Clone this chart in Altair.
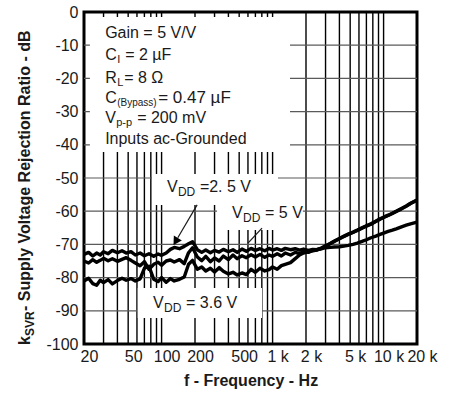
import altair as alt
import pandas as pd

# ---- measured supply-voltage rejection, dB, versus frequency, Hz ----
freq_hz = [20, 22, 24, 26, 28, 30, 33, 36, 40, 44, 48, 53, 58, 64, 70, 77, 85, 93,
           100, 110, 120, 130, 145, 160, 175, 190, 210, 230, 250, 275, 300, 330, 360,
           400, 440, 480, 530, 580, 640, 700, 770, 850, 930, 1000, 1100, 1200, 1300,
           1450, 1600, 1750, 1900, 2100, 2300, 2500, 2750, 3000, 3300, 3600, 4000,
           4400, 4800, 5300, 5800, 6400, 7000, 7700, 8500, 9300, 10000, 11000, 12000,
           13000, 14500, 16000, 17500, 20000]

ksvr_vdd_2v5 = [-73.0, -72.4, -73.5, -72.6, -73.2, -72.2, -72.8, -71.8, -72.5, -71.9,
                -72.6, -72.2, -73.2, -72.6, -73.4, -72.8, -73.6, -72.9, -73.3, -72.6,
                -71.5, -70.9, -71.3, -70.6, -69.8, -69.2, -71.6, -72.4, -71.7, -72.5,
                -71.8, -72.3, -71.5, -72.2, -71.6, -72.4, -71.4, -72.1, -71.2, -71.8,
                -71.3, -71.9, -71.2, -71.7, -71.3, -71.8, -71.2, -71.6, -71.3, -71.7,
                -71.4, -71.8, -71.5, -71.6, -71.3, -71.0, -70.9, -70.8, -70.7, -70.5,
                -70.3, -70.0, -69.6, -69.1, -68.6, -68.0, -67.5, -67.0, -66.6, -66.1,
                -65.7, -65.3, -64.7, -64.2, -63.8, -63.3]

ksvr_vdd_5v = [-75.0, -75.6, -74.6, -75.4, -74.8, -74.2, -74.9, -74.3, -75.1, -74.5,
               -74.0, -74.8, -75.6, -76.4, -75.2, -77.5, -76.0, -75.4, -76.3, -75.0,
               -74.7, -75.3, -74.6, -75.8, -72.5, -71.0, -73.8, -74.9, -73.6, -75.2,
               -74.1, -75.0, -73.5, -74.6, -73.2, -74.3, -73.4, -74.0, -73.1, -73.8,
               -73.0, -73.9, -73.2, -73.6, -72.8, -73.5, -72.6, -73.2, -72.4, -72.8,
               -72.1, -72.4, -71.8, -71.6, -71.1, -70.4, -69.7, -69.0, -68.2, -67.5,
               -66.9, -66.3, -65.7, -65.0, -64.4, -63.8, -63.0, -62.3, -61.8, -61.2,
               -60.6, -60.0, -59.2, -58.4, -57.6, -56.6]

ksvr_vdd_3v6 = [-81.0, -80.2, -81.8, -82.3, -80.8, -81.5, -80.6, -81.9, -80.9, -80.2,
                -80.8, -80.3, -81.0, -80.4, -77.2, -76.6, -80.5, -81.2, -80.0, -81.4,
                -80.3, -81.0, -80.5, -79.8, -76.0, -74.8, -77.5, -76.8, -78.0, -77.2,
                -78.3, -77.0, -78.1, -78.9, -78.4, -79.2, -78.6, -79.1, -77.5, -78.4,
                -77.2, -78.0, -77.6, -76.8, -77.5, -76.4, -76.0, -75.5, -74.3, -73.2,
                -72.6, -72.2, -71.9, -71.7, -71.2, -70.5, -69.8, -69.1, -68.3, -67.6,
                -67.0, -66.4, -65.8, -65.1, -64.5, -63.9, -63.1, -62.4, -61.9, -61.3,
                -60.7, -60.1, -59.3, -58.5, -57.7, -56.7]

series = {"2.5 V": ksvr_vdd_2v5, "5 V": ksvr_vdd_5v, "3.6 V": ksvr_vdd_3v6}

# ---- axes ----
x_ticks = [20, 50, 100, 200, 500, 1000, 2000, 5000, 10000, 20000]
y_ticks = [0, -10, -20, -30, -40, -50, -60, -70, -80, -90, -100]
grid_freqs = ([20, 30, 40, 50, 60, 70, 80, 90]
              + [100, 200, 300, 400, 500, 600, 700, 800, 900]
              + [1000, 2000, 3000, 4000, 5000, 6000, 7000, 8000, 9000]
              + [10000, 20000])
grid_db = [-10, -20, -30, -40, -50, -60, -70, -80, -90]

# ---- white panels behind the annotations (Hz, dB corners) ----
panels = pd.DataFrame({
    "f1": [22.6, 82, 316, 61],
    "f2": [1435, 1119, 1874, 803],
    "db1": [-1.5, -48.8, -57.8, -83.1],
    "db2": [-42.2, -58.1, -65.7, -92.2],
})

FONT = "Liberation Sans"
INK = "#1a1a1a"

xs = alt.Scale(type="log", domain=[20, 20000], nice=False)
ys = alt.Scale(domain=[-100, 0], nice=False)

X_AXIS = alt.Axis(
    values=x_ticks,
    labelExpr="datum.value >= 1000 ? (datum.value / 1000) + ' k' : '' + datum.value",
    grid=False, ticks=False, domain=False, labelFlush=False, labelOverlap=False,
    labelFont=FONT, labelFontSize=16, labelColor=INK, labelPadding=4, labelOffset=5,
    title="f - Frequency - Hz", titleFont=FONT, titleFontSize=16,
    titleFontWeight="bold", titleColor=INK, titlePadding=8,
)
Y_AXIS = alt.Axis(
    values=y_ticks, labelExpr="'' + datum.value",
    grid=False, ticks=False, domain=False, labelOverlap=False,
    labelFont=FONT, labelFontSize=16, labelColor=INK, labelPadding=6, title="",
)


def xq(field):
    return alt.X(field, type="quantitative", scale=xs, axis=X_AXIS, title="f - Frequency - Hz")


def yq(field):
    return alt.Y(field, type="quantitative", scale=ys, axis=Y_AXIS, title="")


rows = []
for name, vals in series.items():
    for f, v in zip(freq_hz, vals):
        rows.append({"f": f, "db": v, "vdd": name})
curve_df = pd.DataFrame(rows)

vgrid = alt.Chart(pd.DataFrame({"f": grid_freqs})).mark_rule(
    color="black", strokeWidth=1.4
).encode(x=xq("f"))

hgrid = alt.Chart(pd.DataFrame({"db": grid_db})).mark_rule(
    color="#5a5a5a", strokeWidth=1.2
).encode(y=yq("db"))

boxes = alt.Chart(panels).mark_rect(fill="white").encode(
    x=xq("f1"), x2="f2:Q", y=yq("db1"), y2="db2:Q",
)

curves = alt.Chart(curve_df).mark_line(
    color="black", strokeWidth=3.4, strokeJoin="round"
).encode(x=xq("f"), y=yq("db"), detail="vdd:N", order="f:Q")


def piece(f, db, txt, dx=0, dy=0, size=16, weight="normal"):
    return alt.Chart(pd.DataFrame({"f": [f], "db": [db], "t": [txt]})).mark_text(
        align="left", baseline="middle", dx=dx, dy=dy, fontSize=size,
        font=FONT, fontWeight=weight, color=INK,
    ).encode(x=xq("f"), y=yq("db"), text="t:N")


# test conditions block
cond_f = 31
cond = [
    piece(cond_f, -6.3, "Gain = 5 V/V"),
    piece(cond_f, -13.0, "C"), piece(cond_f, -13.0, "I", dx=12, dy=5, size=11),
    piece(cond_f, -13.0, "= 2 µF", dx=20),
    piece(cond_f, -19.9, "R"), piece(cond_f, -19.9, "L", dx=12, dy=5, size=11),
    piece(cond_f, -19.9, "= 8 Ω", dx=19),
    piece(cond_f, -25.9, "C"), piece(cond_f, -25.9, "(Bypass)", dx=12, dy=5, size=10),
    piece(cond_f, -25.9, "= 0.47 µF", dx=53, size=17),
    piece(cond_f, -31.9, "V"), piece(cond_f, -31.9, "p-p", dx=11, dy=5, size=11),
    piece(cond_f, -31.9, "= 200 mV", dx=32),
    piece(cond_f, -38.3, "Inputs ac-Grounded"),
]

# supply-voltage labels
vdd_labels = []
for f, db, rest in [(111.6, -52.7, "=2. 5 V"), (431, -60.5, "= 5 V"), (83.7, -87.7, "= 3.6 V")]:
    vdd_labels += [
        piece(f, db, "V"),
        piece(f, db, "DD", dx=11, dy=5, size=12),
        piece(f, db, rest, dx=33),
    ]

# leader lines from the labels to the curves
leaders = alt.Chart(pd.DataFrame({
    "f1": [209, 803], "f2": [140, 600], "db1": [-58.1, -65.1], "db2": [-68.0, -69.6],
})).mark_rule(color=INK, strokeWidth=1.2).encode(
    x=xq("f1"), x2="f2:Q", y=yq("db1"), y2="db2:Q",
)
arrow_head = alt.Chart(pd.DataFrame({"f": [136], "db": [-68.8]})).mark_point(
    shape="triangle", filled=True, color="black", size=90, angle=212, opacity=1
).encode(x=xq("f"), y=yq("db"))


# vertical axis title with subscript
def ytitle(txt, x, y, size):
    return alt.Chart(pd.DataFrame({"t": [txt]})).mark_text(
        align="left", baseline="middle", angle=270, fontSize=size,
        font=FONT, fontWeight="bold", color=INK,
    ).encode(x=alt.value(x), y=alt.value(y), text="t:N")


ytitle_parts = [
    ytitle("k", -59, 333, 16),
    ytitle("SVR", -54, 324, 12),
    ytitle(" - Supply Voltage Rejection Ratio - dB", -59, 299, 16),
]

chart = alt.layer(
    vgrid, hgrid, boxes, curves, leaders, arrow_head, *cond, *vdd_labels, *ytitle_parts
).properties(
    width=333, height=332,
    autosize=alt.AutoSizeParams(type="none"),
    padding={"left": 84, "top": 12, "right": 44, "bottom": 52},
).configure_view(stroke="black", strokeWidth=3)

chart.save("out.html", embed_options={"renderer": "svg", "actions": False})
